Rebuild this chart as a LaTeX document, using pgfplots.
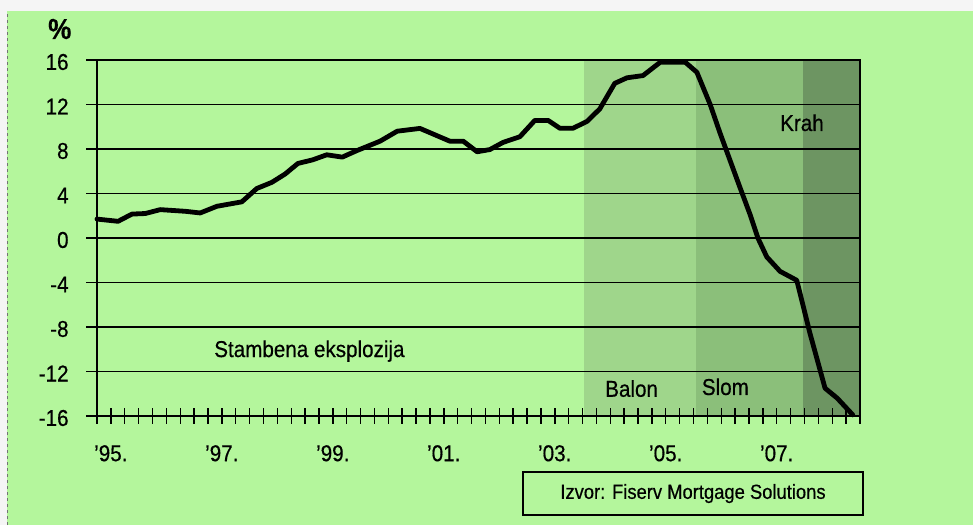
\documentclass[border=0pt]{standalone}
\usepackage{fontspec}
\setmainfont{Liberation Sans}[FakeStretch=0.9, FakeBold=0.5]
\usepackage{pgfplots}
\pgfplotsset{compat=1.18}
\definecolor{bggreen}{HTML}{B4F69C}
\definecolor{balon}{HTML}{9FD68B}
\definecolor{slom}{HTML}{8BBF7A}
\definecolor{krah}{HTML}{6D9562}
\newcommand\fs[1]{\fontsize{#1}{#1}\selectfont}
\pgfplotstableread{
year val
1995.00 1.7
1995.38 1.5
1995.63 2.15
1995.87 2.2
1996.14 2.55
1996.59 2.4
1996.86 2.25
1997.16 2.85
1997.61 3.25
1997.88 4.45
1998.15 5.0
1998.39 5.75
1998.62 6.7
1998.89 7.03
1999.14 7.48
1999.42 7.27
1999.69 7.87
2000.10 8.7
2000.41 9.6
2000.82 9.85
2001.36 8.7
2001.60 8.7
2001.85 7.75
2002.08 7.95
2002.32 8.6
2002.62 9.1
2002.89 10.57
2003.13 10.57
2003.34 9.87
2003.58 9.87
2003.83 10.48
2004.06 11.6
2004.33 13.9
2004.55 14.4
2004.84 14.6
2005.15 15.8
2005.60 15.8
2005.81 14.9
2006.05 12.0
2006.23 9.4
2006.41 6.95
2006.59 4.5
2006.77 2.1
2006.91 0.0
2007.07 -1.7
2007.31 -3.0
2007.61 -3.8
2007.85 -8.6
2008.12 -13.5
2008.34 -14.4
2008.62 -15.9
}\datatable
\begin{document}
\begin{tikzpicture}
\fill[gray!8] (-97bp,-109bp) rectangle (876bp,416bp);
\fill[bggreen] (-90bp,-109bp) rectangle (876bp,405bp);
\draw[black!55, dashed, line width=0.8bp] (-90bp,-109bp) -- (-90bp,405bp);
\begin{axis}[
  at={(0,0)}, anchor=south west,
  scale only axis, width=763bp, height=356bp,
  xmin=1995, xmax=2008.75, ymin=-16, ymax=16,
  axis on top, clip=false,
  axis line style={line width=1.2bp},
  ytick={-16,-12,...,16},
  yticklabels={-16,-12,-8,-4,0,4,8,12,16},
  ymajorgrids, grid style={black, line width=1.1bp},
  ytick pos=left, xtick pos=bottom,
  ytick align=outside, xtick align=center,
  xtick style={black, line width=1.4bp, /pgfplots/major tick length=15bp},
  ytick style={black, line width=1.1bp, /pgfplots/major tick length=11bp},
  xtick={1995,1995.25,...,2008.8},
  xticklabels={},
  extra x ticks={1995,1997,1999,2001,2003,2005,2007},
  extra x tick labels={’95.,’97.,’99.,’01.,’03.,’05.,’07.},
  extra x tick style={major tick length=0pt, xticklabel style={anchor=north west, inner sep=0pt, xshift=-3bp, yshift=-29bp}},
  yticklabel style={anchor=east, inner sep=0pt, xshift=-24bp, yshift=-2bp},
  ticklabel style={font=\fs{23}},
]
\addplot[draw=none, fill=balon] coordinates {(2003.78,-16) (2003.78,16) (2005.79,16) (2005.79,-16)} -- cycle;
\addplot[draw=none, fill=slom] coordinates {(2005.79,-16) (2005.79,16) (2007.72,16) (2007.72,-16)} -- cycle;
\addplot[draw=none, fill=krah] coordinates {(2007.72,-16) (2007.72,16) (2008.75,16) (2008.75,-16)} -- cycle;
\addplot[black, line width=4.8bp, line join=round, line cap=round] table[x=year, y=val] {\datatable};
\node[anchor=base west, font=\fs{23}, inner sep=0pt] at (axis cs:1997.11,-10.7) {Stambena eksplozija};
\node[anchor=base west, font=\fs{23}, inner sep=0pt] at (axis cs:2004.155,-14.27) {Balon};
\node[anchor=base west, font=\fs{23}, inner sep=0pt] at (axis cs:2005.897,-14.11) {Slom};
\node[anchor=base west, font=\fs{23}, inner sep=0pt] at (axis cs:2007.308,9.62) {Krah};
\node[anchor=base west, font=\fs{29}\bfseries, inner sep=0pt] at (axis cs:1994.117,17.89) {\%};
\node[draw, line width=1.8bp, minimum width=340bp, minimum height=43bp, font=\fs{20.5}] at (axis cs:2005.74,-22.97) {Izvor: Fiserv Mortgage Solutions};
\end{axis}
\end{tikzpicture}
\end{document}
